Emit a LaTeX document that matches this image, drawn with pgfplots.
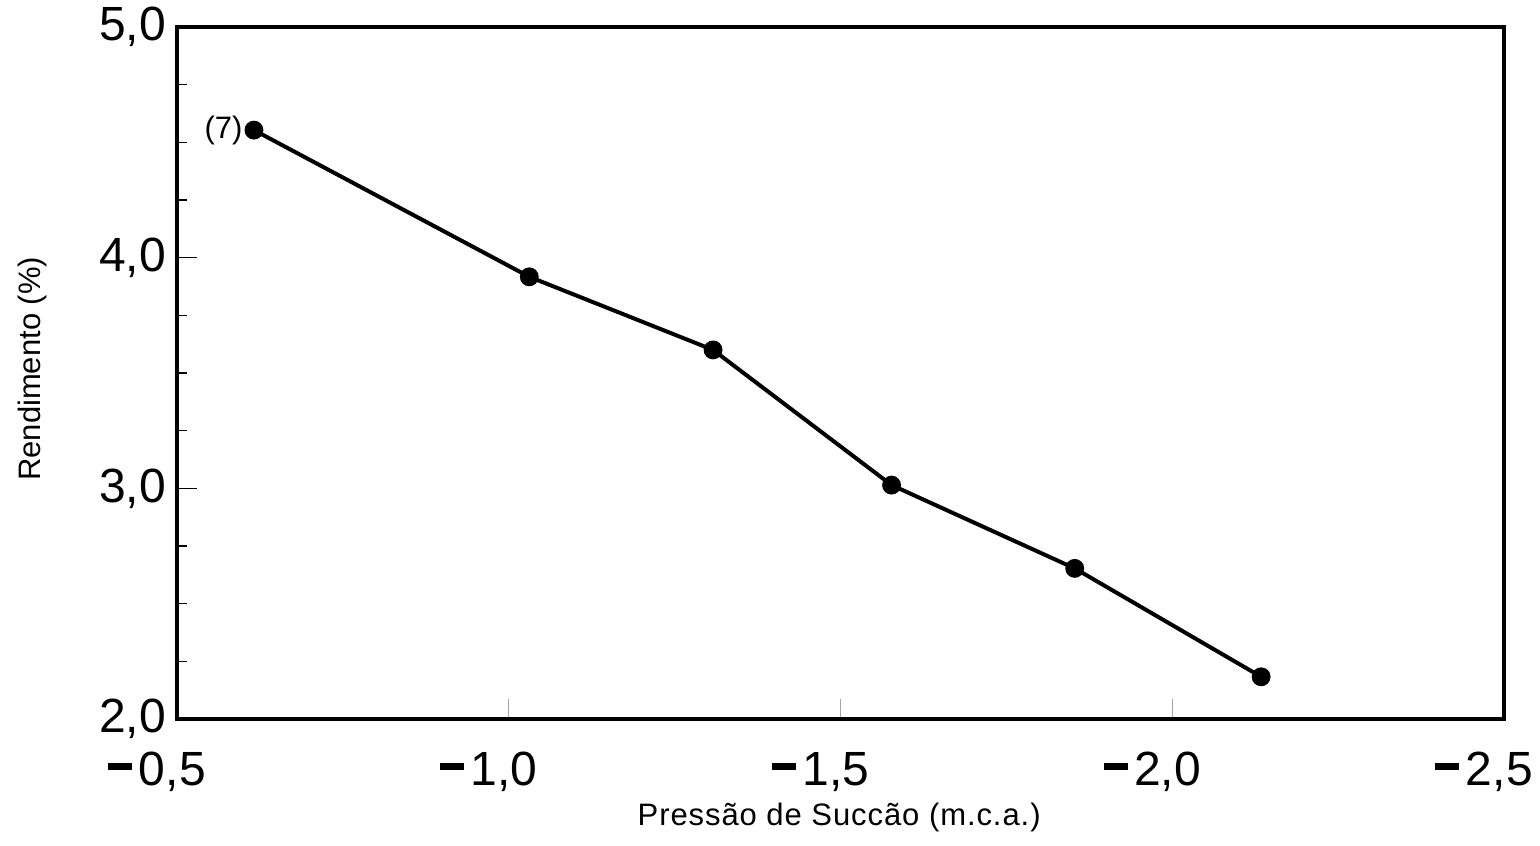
\documentclass[border=0pt]{standalone}
\usepackage{fontspec}
\setmainfont{Liberation Sans}
\newfontfamily\lblfont[LetterSpace=3]{Liberation Sans}
\usepackage{pgfplots}
\pgfplotsset{compat=1.18}
% heavy minus bar used in the x tick labels
\newcommand{\mn}{\rule[0.32em]{0.5em}{0.15em}\kern0.14em}

\begin{document}
\begin{tikzpicture}
\begin{axis}[
  name=ax,
  scale only axis,
  width=663.5pt, height=346pt,
  x dir=reverse,
  xmin=-2.5, xmax=-0.5,
  ymin=2, ymax=5,
  xtick={-0.5,-1,-1.5,-2,-2.5},
  xticklabels={{\mn0,5},{\mn1,0},{\mn1,5},{\mn2,0},{\mn2,5}},
  ytick={2,3,4,5},
  yticklabels={{2,0},{3,0},{4,0},{5,0}},
  minor y tick num=3,
  minor x tick num=0,
  tick pos=left,
  tick align=inside,
  major tick length=10pt,
  minor tick length=5pt,
  axis line style={line width=1.6pt},
  y tick style={line width=0.8pt, black},
  x tick style={line width=0.4pt, black!35},
  ticklabel style={font=\fontsize{24}{27}\selectfont},
  xticklabel style={anchor=north, xshift=-10pt, yshift=-13pt},
  yticklabel style={anchor=east, xshift=-2pt},
  xlabel={\lblfont Pressão de Succão (m.c.a.)},
  ylabel={Rendimento (\%)},
  label style={font=\fontsize{15.5}{18}\selectfont},
  xlabel style={at={(axis description cs:0.499,-0.143)}, anchor=center},
  ylabel style={at={(axis description cs:-0.109,0.506)}, anchor=center},
  clip=false,
]
\addplot[black, line width=2pt, mark=*, mark size=3.7pt,
         mark options={fill=black}]
  coordinates {
    (-0.616,4.553)
    (-1.031,3.917)
    (-1.308,3.600)
    (-1.577,3.014)
    (-1.853,2.653)
    (-2.134,2.183)
  };
\node[anchor=east, inner sep=1pt, xshift=-4.5pt,
      font=\fontsize{15.5}{18}\selectfont] at (axis cs:-0.616,4.553) {(7)};
\end{axis}
\pgfresetboundingbox
\path[use as bounding box]
  ([shift={(-88.5pt,-63pt)}]ax.south west) rectangle
  ([shift={(18pt,13.5pt)}]ax.north east);
\end{tikzpicture}
\end{document}
